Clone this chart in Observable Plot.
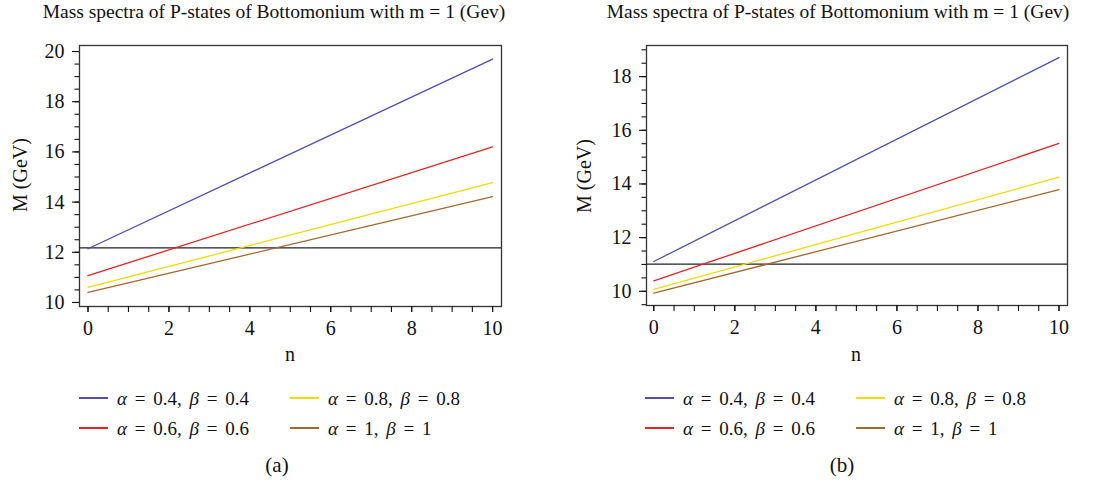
<!DOCTYPE html>
<html><head><meta charset="utf-8">
<script src="https://cdn.jsdelivr.net/npm/d3@7"></script>
<script src="https://cdn.jsdelivr.net/npm/@observablehq/plot@0.6"></script>
<style>
body{margin:0;background:#fff;font-family:"Liberation Serif","DejaVu Serif",serif;color:#111;}
#root{position:relative;width:1119px;height:482px;overflow:hidden;background:#fff}
.abs{position:absolute;white-space:nowrap;line-height:1}
.title{font-size:19.5px;transform:translate(-50%,-50%)}
.axl{font-size:20px;transform:translate(-50%,-50%)}
.ylab{font-size:20px;transform:translate(-50%,-50%) rotate(-90deg)}
.leg{font-size:19px;word-spacing:3px;transform:translateY(-50%)}
.sw{position:absolute;height:1.6px;width:29px}
.cap{font-size:21px;transform:translate(-50%,-50%)}
svg text{font-family:"Liberation Serif",serif}
</style></head><body><div id="root"></div>
<script>
// ---- data ----
const nRange = [0, 10];
const seriesLabels = ["α = 0.4, β = 0.4", "α = 0.6, β = 0.6", "α = 0.8, β = 0.8", "α = 1, β = 1"];
const seriesColors = ["#4f4fb5", "#e8231f", "#f2dc00", "#a5672e"];
const panelAStart = [12.14, 11.07, 10.6, 10.4];
const panelAEnd = [19.7, 16.2, 14.78, 14.22];
const panelARef = 12.18;
const panelBStart = [11.11, 10.39, 10.07, 9.93];
const panelBEnd = [18.71, 15.51, 14.25, 13.79];
const panelBRef = 11.01;
const titleText = "Mass spectra of P-states of Bottomonium with m = 1 (Gev)";
const xMajorTicks = [0, 2, 4, 6, 8, 10];
const panelAYTicks = [10, 12, 14, 16, 18, 20];
const panelBYTicks = [10, 12, 14, 16, 18];
const captions = ["(a)", "(b)"];

const root = document.getElementById("root");
const serif = '"Liberation Serif", serif';

function buildRows(start, end) {
  const rows = [];
  seriesLabels.forEach((s, i) => {
    rows.push({series: s, n: nRange[0], M: start[i]});
    rows.push({series: s, n: nRange[1], M: end[i]});
  });
  return rows;
}

function makePanel(cfg) {
  const rows = buildRows(cfg.start, cfg.end);
  const minor = d3.range(cfg.minorFrom, cfg.minorTo + 1e-9, 0.5);
  const xMinor = d3.range(0, 10.0001, 0.5);
  const svg = Plot.plot({
    width: cfg.width, height: 370,
    marginTop: 45, marginLeft: cfg.ml, marginRight: cfg.mr, marginBottom: cfg.mb,
    style: {fontFamily: serif, fontSize: "20px", background: "transparent", color: "#111"},
    x: {domain: cfg.xDomain},
    y: {domain: cfg.yDomain},
    color: {domain: seriesLabels, range: seriesColors},
    marks: [
      Plot.frame({stroke: "#333", strokeWidth: 1.3}),
      Plot.axisY({ticks: minor, tickSize: 4.5, text: null, label: null, strokeWidth: 1.1}),
      Plot.axisY({ticks: cfg.yTicks, tickSize: 7, tickPadding: 8, label: null, strokeWidth: 1.1, fontSize: 20, fontFamily: serif}),
      Plot.axisX({ticks: xMinor, tickSize: 6, text: null, label: null, strokeWidth: 1.1}),
      Plot.axisX({ticks: xMajorTicks, tickSize: 6, tickPadding: 8, label: null, strokeWidth: 1.1, fontSize: 20, fontFamily: serif}),
      Plot.ruleY([cfg.ref], {stroke: "#222", strokeWidth: 1.2}),
      Plot.line(rows, {x: "n", y: "M", z: "series", stroke: "series", strokeWidth: 1.3})
    ]
  });
  svg.style.position = "absolute";
  svg.style.left = cfg.left + "px";
  svg.style.top = "0px";
  root.appendChild(svg);
}

function addText(cls, x, y, html) {
  const d = document.createElement("div");
  d.className = "abs " + cls;
  d.style.left = x + "px"; d.style.top = y + "px";
  d.innerHTML = html;
  root.appendChild(d);
}

function legendHTML(label) {
  return label.replace(/α/g, "<i>α</i>").replace(/β/g, "<i>β</i>");
}

function addLegend(swx, txx, rowY) {
  const order = [[0, 0, 0], [1, 0, 1], [2, 1, 0], [3, 1, 1]];
  order.forEach(([i, col, row]) => {
    const sw = document.createElement("div");
    sw.className = "sw";
    sw.style.left = swx[col] + "px";
    sw.style.top = (rowY[row] - 1) + "px";
    sw.style.background = seriesColors[i];
    root.appendChild(sw);
    addText("leg", txx[col], rowY[row], legendHTML(seriesLabels[i]));
  });
}

// Panel (a)
makePanel({left: 0, width: 560, ml: 79, mr: 59, mb: 64, xDomain: [-0.21, 10.22], yDomain: [9.84, 20.24],
  yTicks: panelAYTicks, minorFrom: 10, minorTo: 20, start: panelAStart, end: panelAEnd, ref: panelARef});
// Panel (b)
makePanel({left: 560, width: 559, ml: 86, mr: 52, mb: 65, xDomain: [-0.18, 10.21], yDomain: [9.47, 19.16],
  yTicks: panelBYTicks, minorFrom: 9.5, minorTo: 19, start: panelBStart, end: panelBEnd, ref: panelBRef});

addText("title", 274, 12, titleText);
addText("title", 838, 12, titleText);
addText("axl", 290, 354, "n");
addText("axl", 856, 354, "n");
addText("ylab", 20, 175, "M (GeV)");
addText("ylab", 584, 176, "M (GeV)");
addLegend([79, 290], [117, 328], [398, 428]);
addLegend([645, 856], [683, 894], [398, 428]);
addText("cap", 277, 465, captions[0]);
addText("cap", 842, 465, captions[1]);
</script></body></html>
